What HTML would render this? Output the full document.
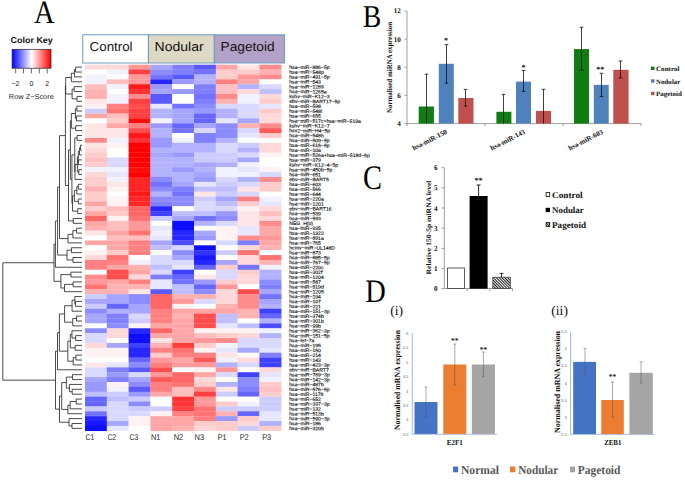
<!DOCTYPE html>
<html><head><meta charset="utf-8"><title>Figure</title>
<style>
html,body{margin:0;padding:0;background:#fff;width:685px;height:480px;overflow:hidden;}
svg{display:block;font-family:"Liberation Sans", sans-serif;text-rendering:geometricPrecision;}
</style></head><body>
<svg width="685" height="480" viewBox="0 0 685 480">
<rect width="685" height="480" fill="#fff"/>
<path d="M65.70,77.51V93.99M65.70,77.51H71.33M65.70,93.99H72.12M71.33,73.24V81.78M71.33,73.24H74.45M71.33,81.78H82.00M74.45,69.58V76.90M74.45,69.58H75.59M74.45,76.90H82.00M75.59,67.14V72.02M75.59,67.14H82.00M75.59,72.02H82.00M72.12,89.11V98.87M72.12,89.11H74.15M72.12,98.87H77.01M74.15,86.67V91.55M74.15,86.67H82.00M74.15,91.55H82.00M77.01,96.43V101.31M77.01,96.43H82.00M77.01,101.31H82.00M68.50,150.03V220.90M68.50,150.03H70.39M68.50,220.90H73.19M70.39,120.84V179.22M70.39,120.84H71.37M70.39,179.22H71.93M71.37,113.51V128.16M71.37,113.51H75.37M71.37,128.16H75.66M75.37,108.63V118.39M75.37,108.63H76.85M75.37,118.39H76.42M76.85,106.19V111.07M76.85,106.19H82.00M76.85,111.07H82.00M76.42,115.95V120.84M76.42,115.95H82.00M76.42,120.84H82.00M75.66,125.72V130.60M75.66,125.72H82.00M75.66,130.60H82.00M71.93,154.93V203.51M71.93,154.93H74.75M71.93,203.51H72.54M74.75,137.92V171.94M74.75,137.92H77.07M74.75,171.94H75.00M77.07,135.48V140.36M77.07,135.48H82.00M77.07,140.36H82.00M75.00,164.46V179.41M75.00,164.46H77.39M75.00,179.41H82.00M77.39,156.84V172.09M77.39,156.84H78.31M77.39,172.09H78.82M78.31,151.34V162.33M78.31,151.34H79.54M78.31,162.33H78.44M79.54,147.68V155.00M79.54,147.68H80.41M79.54,155.00H82.00M80.41,145.24V150.12M80.41,145.24H82.00M80.41,150.12H82.00M78.44,159.89V164.77M78.44,159.89H82.00M78.44,164.77H82.00M78.82,169.65V174.53M78.82,169.65H82.00M78.82,174.53H82.00M72.54,195.89V211.14M72.54,195.89H74.38M72.54,211.14H77.70M74.38,190.39V201.38M74.38,190.39H76.80M74.38,201.38H78.37M76.80,186.73V194.06M76.80,186.73H78.34M76.80,194.06H82.00M78.34,184.29V189.17M78.34,184.29H82.00M78.34,189.17H82.00M78.37,198.94V203.82M78.37,198.94H82.00M78.37,203.82H82.00M77.70,208.70V213.58M77.70,208.70H82.00M77.70,213.58H82.00M73.19,218.46V223.34M73.19,218.46H82.00M73.19,223.34H82.00M65.4,85.75V185.47M65.4,85.75H65.70M65.4,185.47H68.50M68.00,234.33V242.87M68.00,234.33H72.88M68.00,242.87H82.00M72.88,230.67V237.99M72.88,230.67H76.58M72.88,237.99H82.00M76.58,228.22V233.11M76.58,228.22H82.00M76.58,233.11H82.00M59.5,135.61V238.60M59.5,135.61H65.40M59.5,238.60H68.00M67.00,250.19V259.95M67.00,250.19H71.41M67.00,259.95H72.98M71.41,247.75V252.63M71.41,247.75H82.00M71.41,252.63H82.00M72.98,257.51V262.39M72.98,257.51H82.00M72.98,262.39H82.00M57.6,187.10V255.07M57.6,187.10H59.50M57.6,255.07H67.00M55.4,221.09V267.28M55.4,221.09H57.60M55.4,267.28H82.00M60.90,274.60V288.02M60.90,274.60H70.96M60.90,288.02H64.52M70.96,272.16V277.04M70.96,272.16H82.00M70.96,277.04H82.00M64.52,284.36V291.68M64.52,284.36H73.10M64.52,291.68H82.00M73.10,281.92V286.80M73.10,281.92H82.00M73.10,286.80H82.00M54.0,244.18V281.31M54.0,244.18H55.40M54.0,281.31H60.90M64.60,305.72V322.19M64.60,305.72H72.06M64.60,322.19H72.72M72.06,300.22V311.21M72.06,300.22H74.87M72.06,311.21H82.00M74.87,296.56V303.89M74.87,296.56H82.00M74.87,303.89H75.41M75.41,301.44V306.33M75.41,301.44H82.00M75.41,306.33H82.00M72.72,318.53V325.85M72.72,318.53H76.49M72.72,325.85H82.00M76.49,316.09V320.97M76.49,316.09H82.00M76.49,320.97H82.00M67.80,341.11V361.24M67.80,341.11H70.32M67.80,361.24H73.20M70.32,334.39V347.82M70.32,334.39H71.95M70.32,347.82H75.15M71.95,330.73V338.05M71.95,330.73H82.00M71.95,338.05H75.64M75.64,335.61V340.50M75.64,335.61H82.00M75.64,340.50H82.00M75.15,345.38V350.26M75.15,345.38H82.00M75.15,350.26H82.00M73.20,357.58V364.90M73.20,357.58H75.90M73.20,364.90H82.00M75.90,355.14V360.02M75.90,355.14H82.00M75.90,360.02H82.00M59.4,313.95V351.17M59.4,313.95H64.60M59.4,351.17H67.80M57.5,332.56V369.78M57.5,332.56H59.40M57.5,369.78H82.00M61.70,382.60V409.44M61.70,382.60H66.33M61.70,409.44H67.88M66.33,377.11V388.09M66.33,377.11H72.43M66.33,388.09H69.38M72.43,374.66V379.55M72.43,374.66H82.00M72.43,379.55H82.00M69.38,384.43V391.75M69.38,384.43H82.00M69.38,391.75H72.20M72.20,389.31V394.19M72.20,389.31H82.00M72.20,394.19H82.00M67.88,405.17V413.72M67.88,405.17H70.17M67.88,413.72H82.00M70.17,401.51V408.83M70.17,401.51H76.15M70.17,408.83H82.00M76.15,399.07V403.95M76.15,399.07H82.00M76.15,403.95H82.00M69.00,418.60V425.92M69.00,418.60H82.00M69.00,425.92H71.99M71.99,423.48V428.36M71.99,423.48H82.00M71.99,428.36H82.00M59.5,396.02V422.26M59.5,396.02H61.70M59.5,422.26H69.00M55.5,351.17V409.14M55.5,351.17H57.50M55.5,409.14H59.50M2.8,262.75V380.16M2.8,262.75H54.00M2.8,380.16H55.50" fill="none" stroke="#2a2a2a" stroke-width="0.85"/>
<g shape-rendering="auto"><rect x="85.00" y="64.70" width="22.05" height="5.13" fill="rgb(255,217,217)"/><rect x="106.80" y="64.70" width="22.05" height="5.13" fill="rgb(255,217,217)"/><rect x="128.60" y="64.70" width="22.05" height="5.13" fill="rgb(255,153,153)"/><rect x="150.40" y="64.70" width="22.05" height="5.13" fill="rgb(166,166,255)"/><rect x="172.20" y="64.70" width="22.05" height="5.13" fill="rgb(128,128,255)"/><rect x="194.00" y="64.70" width="22.05" height="5.13" fill="rgb(89,89,255)"/><rect x="215.80" y="64.70" width="22.05" height="5.13" fill="rgb(255,166,166)"/><rect x="237.60" y="64.70" width="22.05" height="5.13" fill="rgb(255,230,230)"/><rect x="259.40" y="64.70" width="22.05" height="5.13" fill="rgb(255,140,140)"/><rect x="85.00" y="69.58" width="22.05" height="5.13" fill="rgb(255,255,255)"/><rect x="106.80" y="69.58" width="22.05" height="5.13" fill="rgb(242,242,255)"/><rect x="128.60" y="69.58" width="22.05" height="5.13" fill="rgb(255,64,64)"/><rect x="150.40" y="69.58" width="22.05" height="5.13" fill="rgb(140,140,255)"/><rect x="172.20" y="69.58" width="22.05" height="5.13" fill="rgb(128,128,255)"/><rect x="194.00" y="69.58" width="22.05" height="5.13" fill="rgb(115,115,255)"/><rect x="215.80" y="69.58" width="22.05" height="5.13" fill="rgb(255,204,204)"/><rect x="237.60" y="69.58" width="22.05" height="5.13" fill="rgb(255,204,204)"/><rect x="259.40" y="69.58" width="22.05" height="5.13" fill="rgb(255,178,178)"/><rect x="85.00" y="74.46" width="22.05" height="5.13" fill="rgb(242,242,255)"/><rect x="106.80" y="74.46" width="22.05" height="5.13" fill="rgb(255,255,255)"/><rect x="128.60" y="74.46" width="22.05" height="5.13" fill="rgb(255,153,153)"/><rect x="150.40" y="74.46" width="22.05" height="5.13" fill="rgb(115,115,255)"/><rect x="172.20" y="74.46" width="22.05" height="5.13" fill="rgb(89,89,255)"/><rect x="194.00" y="74.46" width="22.05" height="5.13" fill="rgb(178,178,255)"/><rect x="215.80" y="74.46" width="22.05" height="5.13" fill="rgb(255,204,204)"/><rect x="237.60" y="74.46" width="22.05" height="5.13" fill="rgb(255,153,153)"/><rect x="259.40" y="74.46" width="22.05" height="5.13" fill="rgb(255,140,140)"/><rect x="85.00" y="79.34" width="22.05" height="5.13" fill="rgb(242,242,255)"/><rect x="106.80" y="79.34" width="22.05" height="5.13" fill="rgb(255,191,191)"/><rect x="128.60" y="79.34" width="22.05" height="5.13" fill="rgb(255,153,153)"/><rect x="150.40" y="79.34" width="22.05" height="5.13" fill="rgb(38,38,255)"/><rect x="172.20" y="79.34" width="22.05" height="5.13" fill="rgb(153,153,255)"/><rect x="194.00" y="79.34" width="22.05" height="5.13" fill="rgb(178,178,255)"/><rect x="215.80" y="79.34" width="22.05" height="5.13" fill="rgb(255,128,128)"/><rect x="237.60" y="79.34" width="22.05" height="5.13" fill="rgb(255,166,166)"/><rect x="259.40" y="79.34" width="22.05" height="5.13" fill="rgb(255,255,255)"/><rect x="85.00" y="84.23" width="22.05" height="5.13" fill="rgb(255,191,191)"/><rect x="106.80" y="84.23" width="22.05" height="5.13" fill="rgb(242,242,255)"/><rect x="128.60" y="84.23" width="22.05" height="5.13" fill="rgb(255,25,25)"/><rect x="150.40" y="84.23" width="22.05" height="5.13" fill="rgb(153,153,255)"/><rect x="172.20" y="84.23" width="22.05" height="5.13" fill="rgb(255,255,255)"/><rect x="194.00" y="84.23" width="22.05" height="5.13" fill="rgb(128,128,255)"/><rect x="215.80" y="84.23" width="22.05" height="5.13" fill="rgb(255,191,191)"/><rect x="237.60" y="84.23" width="22.05" height="5.13" fill="rgb(178,178,255)"/><rect x="259.40" y="84.23" width="22.05" height="5.13" fill="rgb(217,217,255)"/><rect x="85.00" y="89.11" width="22.05" height="5.13" fill="rgb(255,178,178)"/><rect x="106.80" y="89.11" width="22.05" height="5.13" fill="rgb(255,255,255)"/><rect x="128.60" y="89.11" width="22.05" height="5.13" fill="rgb(255,51,51)"/><rect x="150.40" y="89.11" width="22.05" height="5.13" fill="rgb(166,166,255)"/><rect x="172.20" y="89.11" width="22.05" height="5.13" fill="rgb(153,153,255)"/><rect x="194.00" y="89.11" width="22.05" height="5.13" fill="rgb(128,128,255)"/><rect x="215.80" y="89.11" width="22.05" height="5.13" fill="rgb(255,191,191)"/><rect x="237.60" y="89.11" width="22.05" height="5.13" fill="rgb(255,217,217)"/><rect x="259.40" y="89.11" width="22.05" height="5.13" fill="rgb(191,191,255)"/><rect x="85.00" y="93.99" width="22.05" height="5.13" fill="rgb(255,178,178)"/><rect x="106.80" y="93.99" width="22.05" height="5.13" fill="rgb(242,242,255)"/><rect x="128.60" y="93.99" width="22.05" height="5.13" fill="rgb(255,140,140)"/><rect x="150.40" y="93.99" width="22.05" height="5.13" fill="rgb(89,89,255)"/><rect x="172.20" y="93.99" width="22.05" height="5.13" fill="rgb(255,255,255)"/><rect x="194.00" y="93.99" width="22.05" height="5.13" fill="rgb(115,115,255)"/><rect x="215.80" y="93.99" width="22.05" height="5.13" fill="rgb(255,140,140)"/><rect x="237.60" y="93.99" width="22.05" height="5.13" fill="rgb(242,242,255)"/><rect x="259.40" y="93.99" width="22.05" height="5.13" fill="rgb(255,217,217)"/><rect x="85.00" y="98.87" width="22.05" height="5.13" fill="rgb(255,230,230)"/><rect x="106.80" y="98.87" width="22.05" height="5.13" fill="rgb(242,242,255)"/><rect x="128.60" y="98.87" width="22.05" height="5.13" fill="rgb(255,64,64)"/><rect x="150.40" y="98.87" width="22.05" height="5.13" fill="rgb(89,89,255)"/><rect x="172.20" y="98.87" width="22.05" height="5.13" fill="rgb(255,255,255)"/><rect x="194.00" y="98.87" width="22.05" height="5.13" fill="rgb(128,128,255)"/><rect x="215.80" y="98.87" width="22.05" height="5.13" fill="rgb(255,178,178)"/><rect x="237.60" y="98.87" width="22.05" height="5.13" fill="rgb(242,242,255)"/><rect x="259.40" y="98.87" width="22.05" height="5.13" fill="rgb(255,204,204)"/><rect x="85.00" y="103.75" width="22.05" height="5.13" fill="rgb(255,242,242)"/><rect x="106.80" y="103.75" width="22.05" height="5.13" fill="rgb(255,128,128)"/><rect x="128.60" y="103.75" width="22.05" height="5.13" fill="rgb(255,77,77)"/><rect x="150.40" y="103.75" width="22.05" height="5.13" fill="rgb(230,230,255)"/><rect x="172.20" y="103.75" width="22.05" height="5.13" fill="rgb(115,115,255)"/><rect x="194.00" y="103.75" width="22.05" height="5.13" fill="rgb(140,140,255)"/><rect x="215.80" y="103.75" width="22.05" height="5.13" fill="rgb(217,217,255)"/><rect x="237.60" y="103.75" width="22.05" height="5.13" fill="rgb(217,217,255)"/><rect x="259.40" y="103.75" width="22.05" height="5.13" fill="rgb(230,230,255)"/><rect x="85.00" y="108.63" width="22.05" height="5.13" fill="rgb(204,204,255)"/><rect x="106.80" y="108.63" width="22.05" height="5.13" fill="rgb(255,115,115)"/><rect x="128.60" y="108.63" width="22.05" height="5.13" fill="rgb(255,64,64)"/><rect x="150.40" y="108.63" width="22.05" height="5.13" fill="rgb(178,178,255)"/><rect x="172.20" y="108.63" width="22.05" height="5.13" fill="rgb(166,166,255)"/><rect x="194.00" y="108.63" width="22.05" height="5.13" fill="rgb(153,153,255)"/><rect x="215.80" y="108.63" width="22.05" height="5.13" fill="rgb(178,178,255)"/><rect x="237.60" y="108.63" width="22.05" height="5.13" fill="rgb(217,217,255)"/><rect x="259.40" y="108.63" width="22.05" height="5.13" fill="rgb(255,204,204)"/><rect x="85.00" y="113.51" width="22.05" height="5.13" fill="rgb(255,166,166)"/><rect x="106.80" y="113.51" width="22.05" height="5.13" fill="rgb(255,191,191)"/><rect x="128.60" y="113.51" width="22.05" height="5.13" fill="rgb(255,64,64)"/><rect x="150.40" y="113.51" width="22.05" height="5.13" fill="rgb(178,178,255)"/><rect x="172.20" y="113.51" width="22.05" height="5.13" fill="rgb(166,166,255)"/><rect x="194.00" y="113.51" width="22.05" height="5.13" fill="rgb(102,102,255)"/><rect x="215.80" y="113.51" width="22.05" height="5.13" fill="rgb(178,178,255)"/><rect x="237.60" y="113.51" width="22.05" height="5.13" fill="rgb(217,217,255)"/><rect x="259.40" y="113.51" width="22.05" height="5.13" fill="rgb(255,217,217)"/><rect x="85.00" y="118.39" width="22.05" height="5.13" fill="rgb(255,255,255)"/><rect x="106.80" y="118.39" width="22.05" height="5.13" fill="rgb(255,204,204)"/><rect x="128.60" y="118.39" width="22.05" height="5.13" fill="rgb(255,13,13)"/><rect x="150.40" y="118.39" width="22.05" height="5.13" fill="rgb(242,242,255)"/><rect x="172.20" y="118.39" width="22.05" height="5.13" fill="rgb(166,166,255)"/><rect x="194.00" y="118.39" width="22.05" height="5.13" fill="rgb(102,102,255)"/><rect x="215.80" y="118.39" width="22.05" height="5.13" fill="rgb(230,230,255)"/><rect x="237.60" y="118.39" width="22.05" height="5.13" fill="rgb(166,166,255)"/><rect x="259.40" y="118.39" width="22.05" height="5.13" fill="rgb(255,217,217)"/><rect x="85.00" y="123.28" width="22.05" height="5.13" fill="rgb(255,230,230)"/><rect x="106.80" y="123.28" width="22.05" height="5.13" fill="rgb(255,166,166)"/><rect x="128.60" y="123.28" width="22.05" height="5.13" fill="rgb(255,128,128)"/><rect x="150.40" y="123.28" width="22.05" height="5.13" fill="rgb(153,153,255)"/><rect x="172.20" y="123.28" width="22.05" height="5.13" fill="rgb(102,102,255)"/><rect x="194.00" y="123.28" width="22.05" height="5.13" fill="rgb(166,166,255)"/><rect x="215.80" y="123.28" width="22.05" height="5.13" fill="rgb(140,140,255)"/><rect x="237.60" y="123.28" width="22.05" height="5.13" fill="rgb(255,178,178)"/><rect x="259.40" y="123.28" width="22.05" height="5.13" fill="rgb(255,140,140)"/><rect x="85.00" y="128.16" width="22.05" height="5.13" fill="rgb(255,230,230)"/><rect x="106.80" y="128.16" width="22.05" height="5.13" fill="rgb(255,230,230)"/><rect x="128.60" y="128.16" width="22.05" height="5.13" fill="rgb(255,77,77)"/><rect x="150.40" y="128.16" width="22.05" height="5.13" fill="rgb(178,178,255)"/><rect x="172.20" y="128.16" width="22.05" height="5.13" fill="rgb(115,115,255)"/><rect x="194.00" y="128.16" width="22.05" height="5.13" fill="rgb(217,217,255)"/><rect x="215.80" y="128.16" width="22.05" height="5.13" fill="rgb(140,140,255)"/><rect x="237.60" y="128.16" width="22.05" height="5.13" fill="rgb(217,217,255)"/><rect x="259.40" y="128.16" width="22.05" height="5.13" fill="rgb(255,89,89)"/><rect x="85.00" y="133.04" width="22.05" height="5.13" fill="rgb(255,230,230)"/><rect x="106.80" y="133.04" width="22.05" height="5.13" fill="rgb(255,230,230)"/><rect x="128.60" y="133.04" width="22.05" height="5.13" fill="rgb(255,25,25)"/><rect x="150.40" y="133.04" width="22.05" height="5.13" fill="rgb(178,178,255)"/><rect x="172.20" y="133.04" width="22.05" height="5.13" fill="rgb(255,255,255)"/><rect x="194.00" y="133.04" width="22.05" height="5.13" fill="rgb(128,128,255)"/><rect x="215.80" y="133.04" width="22.05" height="5.13" fill="rgb(140,140,255)"/><rect x="237.60" y="133.04" width="22.05" height="5.13" fill="rgb(230,230,255)"/><rect x="259.40" y="133.04" width="22.05" height="5.13" fill="rgb(255,204,204)"/><rect x="85.00" y="137.92" width="22.05" height="5.13" fill="rgb(255,140,140)"/><rect x="106.80" y="137.92" width="22.05" height="5.13" fill="rgb(242,242,255)"/><rect x="128.60" y="137.92" width="22.05" height="5.13" fill="rgb(255,51,51)"/><rect x="150.40" y="137.92" width="22.05" height="5.13" fill="rgb(153,153,255)"/><rect x="172.20" y="137.92" width="22.05" height="5.13" fill="rgb(242,242,255)"/><rect x="194.00" y="137.92" width="22.05" height="5.13" fill="rgb(128,128,255)"/><rect x="215.80" y="137.92" width="22.05" height="5.13" fill="rgb(178,178,255)"/><rect x="237.60" y="137.92" width="22.05" height="5.13" fill="rgb(255,255,255)"/><rect x="259.40" y="137.92" width="22.05" height="5.13" fill="rgb(255,255,255)"/><rect x="85.00" y="142.80" width="22.05" height="5.13" fill="rgb(255,230,230)"/><rect x="106.80" y="142.80" width="22.05" height="5.13" fill="rgb(255,242,242)"/><rect x="128.60" y="142.80" width="22.05" height="5.13" fill="rgb(255,0,0)"/><rect x="150.40" y="142.80" width="22.05" height="5.13" fill="rgb(153,153,255)"/><rect x="172.20" y="142.80" width="22.05" height="5.13" fill="rgb(178,178,255)"/><rect x="194.00" y="142.80" width="22.05" height="5.13" fill="rgb(178,178,255)"/><rect x="215.80" y="142.80" width="22.05" height="5.13" fill="rgb(217,217,255)"/><rect x="237.60" y="142.80" width="22.05" height="5.13" fill="rgb(204,204,255)"/><rect x="259.40" y="142.80" width="22.05" height="5.13" fill="rgb(255,217,217)"/><rect x="85.00" y="147.68" width="22.05" height="5.13" fill="rgb(255,217,217)"/><rect x="106.80" y="147.68" width="22.05" height="5.13" fill="rgb(255,255,255)"/><rect x="128.60" y="147.68" width="22.05" height="5.13" fill="rgb(255,0,0)"/><rect x="150.40" y="147.68" width="22.05" height="5.13" fill="rgb(178,178,255)"/><rect x="172.20" y="147.68" width="22.05" height="5.13" fill="rgb(178,178,255)"/><rect x="194.00" y="147.68" width="22.05" height="5.13" fill="rgb(178,178,255)"/><rect x="215.80" y="147.68" width="22.05" height="5.13" fill="rgb(217,217,255)"/><rect x="237.60" y="147.68" width="22.05" height="5.13" fill="rgb(178,178,255)"/><rect x="259.40" y="147.68" width="22.05" height="5.13" fill="rgb(255,217,217)"/><rect x="85.00" y="152.56" width="22.05" height="5.13" fill="rgb(255,204,204)"/><rect x="106.80" y="152.56" width="22.05" height="5.13" fill="rgb(255,255,255)"/><rect x="128.60" y="152.56" width="22.05" height="5.13" fill="rgb(255,0,0)"/><rect x="150.40" y="152.56" width="22.05" height="5.13" fill="rgb(166,166,255)"/><rect x="172.20" y="152.56" width="22.05" height="5.13" fill="rgb(153,153,255)"/><rect x="194.00" y="152.56" width="22.05" height="5.13" fill="rgb(204,204,255)"/><rect x="215.80" y="152.56" width="22.05" height="5.13" fill="rgb(204,204,255)"/><rect x="237.60" y="152.56" width="22.05" height="5.13" fill="rgb(217,217,255)"/><rect x="259.40" y="152.56" width="22.05" height="5.13" fill="rgb(255,242,242)"/><rect x="85.00" y="157.45" width="22.05" height="5.13" fill="rgb(255,191,191)"/><rect x="106.80" y="157.45" width="22.05" height="5.13" fill="rgb(217,217,255)"/><rect x="128.60" y="157.45" width="22.05" height="5.13" fill="rgb(255,0,0)"/><rect x="150.40" y="157.45" width="22.05" height="5.13" fill="rgb(178,178,255)"/><rect x="172.20" y="157.45" width="22.05" height="5.13" fill="rgb(178,178,255)"/><rect x="194.00" y="157.45" width="22.05" height="5.13" fill="rgb(204,204,255)"/><rect x="215.80" y="157.45" width="22.05" height="5.13" fill="rgb(204,204,255)"/><rect x="237.60" y="157.45" width="22.05" height="5.13" fill="rgb(166,166,255)"/><rect x="259.40" y="157.45" width="22.05" height="5.13" fill="rgb(255,255,255)"/><rect x="85.00" y="162.33" width="22.05" height="5.13" fill="rgb(255,204,204)"/><rect x="106.80" y="162.33" width="22.05" height="5.13" fill="rgb(217,217,255)"/><rect x="128.60" y="162.33" width="22.05" height="5.13" fill="rgb(255,0,0)"/><rect x="150.40" y="162.33" width="22.05" height="5.13" fill="rgb(178,178,255)"/><rect x="172.20" y="162.33" width="22.05" height="5.13" fill="rgb(178,178,255)"/><rect x="194.00" y="162.33" width="22.05" height="5.13" fill="rgb(166,166,255)"/><rect x="215.80" y="162.33" width="22.05" height="5.13" fill="rgb(178,178,255)"/><rect x="237.60" y="162.33" width="22.05" height="5.13" fill="rgb(242,242,255)"/><rect x="259.40" y="162.33" width="22.05" height="5.13" fill="rgb(255,255,255)"/><rect x="85.00" y="167.21" width="22.05" height="5.13" fill="rgb(242,242,255)"/><rect x="106.80" y="167.21" width="22.05" height="5.13" fill="rgb(242,242,255)"/><rect x="128.60" y="167.21" width="22.05" height="5.13" fill="rgb(255,13,13)"/><rect x="150.40" y="167.21" width="22.05" height="5.13" fill="rgb(178,178,255)"/><rect x="172.20" y="167.21" width="22.05" height="5.13" fill="rgb(153,153,255)"/><rect x="194.00" y="167.21" width="22.05" height="5.13" fill="rgb(178,178,255)"/><rect x="215.80" y="167.21" width="22.05" height="5.13" fill="rgb(242,242,255)"/><rect x="237.60" y="167.21" width="22.05" height="5.13" fill="rgb(230,230,255)"/><rect x="259.40" y="167.21" width="22.05" height="5.13" fill="rgb(255,242,242)"/><rect x="85.00" y="172.09" width="22.05" height="5.13" fill="rgb(255,217,217)"/><rect x="106.80" y="172.09" width="22.05" height="5.13" fill="rgb(230,230,255)"/><rect x="128.60" y="172.09" width="22.05" height="5.13" fill="rgb(255,0,0)"/><rect x="150.40" y="172.09" width="22.05" height="5.13" fill="rgb(178,178,255)"/><rect x="172.20" y="172.09" width="22.05" height="5.13" fill="rgb(178,178,255)"/><rect x="194.00" y="172.09" width="22.05" height="5.13" fill="rgb(166,166,255)"/><rect x="215.80" y="172.09" width="22.05" height="5.13" fill="rgb(242,242,255)"/><rect x="237.60" y="172.09" width="22.05" height="5.13" fill="rgb(242,242,255)"/><rect x="259.40" y="172.09" width="22.05" height="5.13" fill="rgb(217,217,255)"/><rect x="85.00" y="176.97" width="22.05" height="5.13" fill="rgb(255,204,204)"/><rect x="106.80" y="176.97" width="22.05" height="5.13" fill="rgb(242,242,255)"/><rect x="128.60" y="176.97" width="22.05" height="5.13" fill="rgb(255,38,38)"/><rect x="150.40" y="176.97" width="22.05" height="5.13" fill="rgb(140,140,255)"/><rect x="172.20" y="176.97" width="22.05" height="5.13" fill="rgb(178,178,255)"/><rect x="194.00" y="176.97" width="22.05" height="5.13" fill="rgb(153,153,255)"/><rect x="215.80" y="176.97" width="22.05" height="5.13" fill="rgb(217,217,255)"/><rect x="237.60" y="176.97" width="22.05" height="5.13" fill="rgb(178,178,255)"/><rect x="259.40" y="176.97" width="22.05" height="5.13" fill="rgb(255,140,140)"/><rect x="85.00" y="181.85" width="22.05" height="5.13" fill="rgb(255,204,204)"/><rect x="106.80" y="181.85" width="22.05" height="5.13" fill="rgb(255,230,230)"/><rect x="128.60" y="181.85" width="22.05" height="5.13" fill="rgb(255,38,38)"/><rect x="150.40" y="181.85" width="22.05" height="5.13" fill="rgb(115,115,255)"/><rect x="172.20" y="181.85" width="22.05" height="5.13" fill="rgb(166,166,255)"/><rect x="194.00" y="181.85" width="22.05" height="5.13" fill="rgb(230,230,255)"/><rect x="215.80" y="181.85" width="22.05" height="5.13" fill="rgb(204,204,255)"/><rect x="237.60" y="181.85" width="22.05" height="5.13" fill="rgb(217,217,255)"/><rect x="259.40" y="181.85" width="22.05" height="5.13" fill="rgb(255,204,204)"/><rect x="85.00" y="186.73" width="22.05" height="5.13" fill="rgb(255,178,178)"/><rect x="106.80" y="186.73" width="22.05" height="5.13" fill="rgb(255,242,242)"/><rect x="128.60" y="186.73" width="22.05" height="5.13" fill="rgb(255,38,38)"/><rect x="150.40" y="186.73" width="22.05" height="5.13" fill="rgb(140,140,255)"/><rect x="172.20" y="186.73" width="22.05" height="5.13" fill="rgb(128,128,255)"/><rect x="194.00" y="186.73" width="22.05" height="5.13" fill="rgb(191,191,255)"/><rect x="215.80" y="186.73" width="22.05" height="5.13" fill="rgb(191,191,255)"/><rect x="237.60" y="186.73" width="22.05" height="5.13" fill="rgb(255,230,230)"/><rect x="259.40" y="186.73" width="22.05" height="5.13" fill="rgb(255,204,204)"/><rect x="85.00" y="191.61" width="22.05" height="5.13" fill="rgb(255,204,204)"/><rect x="106.80" y="191.61" width="22.05" height="5.13" fill="rgb(255,255,255)"/><rect x="128.60" y="191.61" width="22.05" height="5.13" fill="rgb(255,25,25)"/><rect x="150.40" y="191.61" width="22.05" height="5.13" fill="rgb(178,178,255)"/><rect x="172.20" y="191.61" width="22.05" height="5.13" fill="rgb(115,115,255)"/><rect x="194.00" y="191.61" width="22.05" height="5.13" fill="rgb(255,230,230)"/><rect x="215.80" y="191.61" width="22.05" height="5.13" fill="rgb(204,204,255)"/><rect x="237.60" y="191.61" width="22.05" height="5.13" fill="rgb(217,217,255)"/><rect x="259.40" y="191.61" width="22.05" height="5.13" fill="rgb(255,255,255)"/><rect x="85.00" y="196.50" width="22.05" height="5.13" fill="rgb(255,204,204)"/><rect x="106.80" y="196.50" width="22.05" height="5.13" fill="rgb(255,242,242)"/><rect x="128.60" y="196.50" width="22.05" height="5.13" fill="rgb(255,38,38)"/><rect x="150.40" y="196.50" width="22.05" height="5.13" fill="rgb(140,140,255)"/><rect x="172.20" y="196.50" width="22.05" height="5.13" fill="rgb(140,140,255)"/><rect x="194.00" y="196.50" width="22.05" height="5.13" fill="rgb(204,204,255)"/><rect x="215.80" y="196.50" width="22.05" height="5.13" fill="rgb(166,166,255)"/><rect x="237.60" y="196.50" width="22.05" height="5.13" fill="rgb(255,128,128)"/><rect x="259.40" y="196.50" width="22.05" height="5.13" fill="rgb(242,242,255)"/><rect x="85.00" y="201.38" width="22.05" height="5.13" fill="rgb(255,166,166)"/><rect x="106.80" y="201.38" width="22.05" height="5.13" fill="rgb(255,242,242)"/><rect x="128.60" y="201.38" width="22.05" height="5.13" fill="rgb(255,38,38)"/><rect x="150.40" y="201.38" width="22.05" height="5.13" fill="rgb(128,128,255)"/><rect x="172.20" y="201.38" width="22.05" height="5.13" fill="rgb(140,140,255)"/><rect x="194.00" y="201.38" width="22.05" height="5.13" fill="rgb(217,217,255)"/><rect x="215.80" y="201.38" width="22.05" height="5.13" fill="rgb(191,191,255)"/><rect x="237.60" y="201.38" width="22.05" height="5.13" fill="rgb(255,204,204)"/><rect x="259.40" y="201.38" width="22.05" height="5.13" fill="rgb(230,230,255)"/><rect x="85.00" y="206.26" width="22.05" height="5.13" fill="rgb(255,204,204)"/><rect x="106.80" y="206.26" width="22.05" height="5.13" fill="rgb(255,191,191)"/><rect x="128.60" y="206.26" width="22.05" height="5.13" fill="rgb(255,102,102)"/><rect x="150.40" y="206.26" width="22.05" height="5.13" fill="rgb(38,38,255)"/><rect x="172.20" y="206.26" width="22.05" height="5.13" fill="rgb(255,255,255)"/><rect x="194.00" y="206.26" width="22.05" height="5.13" fill="rgb(217,217,255)"/><rect x="215.80" y="206.26" width="22.05" height="5.13" fill="rgb(217,217,255)"/><rect x="237.60" y="206.26" width="22.05" height="5.13" fill="rgb(255,242,242)"/><rect x="259.40" y="206.26" width="22.05" height="5.13" fill="rgb(255,217,217)"/><rect x="85.00" y="211.14" width="22.05" height="5.13" fill="rgb(255,166,166)"/><rect x="106.80" y="211.14" width="22.05" height="5.13" fill="rgb(255,204,204)"/><rect x="128.60" y="211.14" width="22.05" height="5.13" fill="rgb(255,102,102)"/><rect x="150.40" y="211.14" width="22.05" height="5.13" fill="rgb(64,64,255)"/><rect x="172.20" y="211.14" width="22.05" height="5.13" fill="rgb(191,191,255)"/><rect x="194.00" y="211.14" width="22.05" height="5.13" fill="rgb(191,191,255)"/><rect x="215.80" y="211.14" width="22.05" height="5.13" fill="rgb(153,153,255)"/><rect x="237.60" y="211.14" width="22.05" height="5.13" fill="rgb(255,230,230)"/><rect x="259.40" y="211.14" width="22.05" height="5.13" fill="rgb(255,191,191)"/><rect x="85.00" y="216.02" width="22.05" height="5.13" fill="rgb(255,102,102)"/><rect x="106.80" y="216.02" width="22.05" height="5.13" fill="rgb(255,242,242)"/><rect x="128.60" y="216.02" width="22.05" height="5.13" fill="rgb(255,115,115)"/><rect x="150.40" y="216.02" width="22.05" height="5.13" fill="rgb(204,204,255)"/><rect x="172.20" y="216.02" width="22.05" height="5.13" fill="rgb(166,166,255)"/><rect x="194.00" y="216.02" width="22.05" height="5.13" fill="rgb(115,115,255)"/><rect x="215.80" y="216.02" width="22.05" height="5.13" fill="rgb(140,140,255)"/><rect x="237.60" y="216.02" width="22.05" height="5.13" fill="rgb(255,230,230)"/><rect x="259.40" y="216.02" width="22.05" height="5.13" fill="rgb(255,217,217)"/><rect x="85.00" y="220.90" width="22.05" height="5.13" fill="rgb(255,166,166)"/><rect x="106.80" y="220.90" width="22.05" height="5.13" fill="rgb(255,191,191)"/><rect x="128.60" y="220.90" width="22.05" height="5.13" fill="rgb(255,153,153)"/><rect x="150.40" y="220.90" width="22.05" height="5.13" fill="rgb(255,255,255)"/><rect x="172.20" y="220.90" width="22.05" height="5.13" fill="rgb(13,13,255)"/><rect x="194.00" y="220.90" width="22.05" height="5.13" fill="rgb(178,178,255)"/><rect x="215.80" y="220.90" width="22.05" height="5.13" fill="rgb(217,217,255)"/><rect x="237.60" y="220.90" width="22.05" height="5.13" fill="rgb(255,230,230)"/><rect x="259.40" y="220.90" width="22.05" height="5.13" fill="rgb(255,140,140)"/><rect x="85.00" y="225.78" width="22.05" height="5.13" fill="rgb(255,178,178)"/><rect x="106.80" y="225.78" width="22.05" height="5.13" fill="rgb(255,191,191)"/><rect x="128.60" y="225.78" width="22.05" height="5.13" fill="rgb(255,153,153)"/><rect x="150.40" y="225.78" width="22.05" height="5.13" fill="rgb(230,230,255)"/><rect x="172.20" y="225.78" width="22.05" height="5.13" fill="rgb(13,13,255)"/><rect x="194.00" y="225.78" width="22.05" height="5.13" fill="rgb(255,255,255)"/><rect x="215.80" y="225.78" width="22.05" height="5.13" fill="rgb(255,242,242)"/><rect x="237.60" y="225.78" width="22.05" height="5.13" fill="rgb(230,230,255)"/><rect x="259.40" y="225.78" width="22.05" height="5.13" fill="rgb(255,166,166)"/><rect x="85.00" y="230.67" width="22.05" height="5.13" fill="rgb(255,230,230)"/><rect x="106.80" y="230.67" width="22.05" height="5.13" fill="rgb(255,166,166)"/><rect x="128.60" y="230.67" width="22.05" height="5.13" fill="rgb(255,115,115)"/><rect x="150.40" y="230.67" width="22.05" height="5.13" fill="rgb(242,242,255)"/><rect x="172.20" y="230.67" width="22.05" height="5.13" fill="rgb(38,38,255)"/><rect x="194.00" y="230.67" width="22.05" height="5.13" fill="rgb(166,166,255)"/><rect x="215.80" y="230.67" width="22.05" height="5.13" fill="rgb(255,242,242)"/><rect x="237.60" y="230.67" width="22.05" height="5.13" fill="rgb(230,230,255)"/><rect x="259.40" y="230.67" width="22.05" height="5.13" fill="rgb(255,166,166)"/><rect x="85.00" y="235.55" width="22.05" height="5.13" fill="rgb(255,255,255)"/><rect x="106.80" y="235.55" width="22.05" height="5.13" fill="rgb(255,191,191)"/><rect x="128.60" y="235.55" width="22.05" height="5.13" fill="rgb(255,191,191)"/><rect x="150.40" y="235.55" width="22.05" height="5.13" fill="rgb(230,230,255)"/><rect x="172.20" y="235.55" width="22.05" height="5.13" fill="rgb(38,38,255)"/><rect x="194.00" y="235.55" width="22.05" height="5.13" fill="rgb(153,153,255)"/><rect x="215.80" y="235.55" width="22.05" height="5.13" fill="rgb(255,242,242)"/><rect x="237.60" y="235.55" width="22.05" height="5.13" fill="rgb(255,140,140)"/><rect x="259.40" y="235.55" width="22.05" height="5.13" fill="rgb(255,153,153)"/><rect x="85.00" y="240.43" width="22.05" height="5.13" fill="rgb(255,166,166)"/><rect x="106.80" y="240.43" width="22.05" height="5.13" fill="rgb(255,166,166)"/><rect x="128.60" y="240.43" width="22.05" height="5.13" fill="rgb(255,128,128)"/><rect x="150.40" y="240.43" width="22.05" height="5.13" fill="rgb(166,166,255)"/><rect x="172.20" y="240.43" width="22.05" height="5.13" fill="rgb(77,77,255)"/><rect x="194.00" y="240.43" width="22.05" height="5.13" fill="rgb(255,255,255)"/><rect x="215.80" y="240.43" width="22.05" height="5.13" fill="rgb(217,217,255)"/><rect x="237.60" y="240.43" width="22.05" height="5.13" fill="rgb(128,128,255)"/><rect x="259.40" y="240.43" width="22.05" height="5.13" fill="rgb(255,166,166)"/><rect x="85.00" y="245.31" width="22.05" height="5.13" fill="rgb(255,255,255)"/><rect x="106.80" y="245.31" width="22.05" height="5.13" fill="rgb(255,166,166)"/><rect x="128.60" y="245.31" width="22.05" height="5.13" fill="rgb(255,128,128)"/><rect x="150.40" y="245.31" width="22.05" height="5.13" fill="rgb(191,191,255)"/><rect x="172.20" y="245.31" width="22.05" height="5.13" fill="rgb(217,217,255)"/><rect x="194.00" y="245.31" width="22.05" height="5.13" fill="rgb(13,13,255)"/><rect x="215.80" y="245.31" width="22.05" height="5.13" fill="rgb(255,255,255)"/><rect x="237.60" y="245.31" width="22.05" height="5.13" fill="rgb(255,217,217)"/><rect x="259.40" y="245.31" width="22.05" height="5.13" fill="rgb(255,178,178)"/><rect x="85.00" y="250.19" width="22.05" height="5.13" fill="rgb(255,242,242)"/><rect x="106.80" y="250.19" width="22.05" height="5.13" fill="rgb(255,204,204)"/><rect x="128.60" y="250.19" width="22.05" height="5.13" fill="rgb(255,128,128)"/><rect x="150.40" y="250.19" width="22.05" height="5.13" fill="rgb(255,255,255)"/><rect x="172.20" y="250.19" width="22.05" height="5.13" fill="rgb(140,140,255)"/><rect x="194.00" y="250.19" width="22.05" height="5.13" fill="rgb(51,51,255)"/><rect x="215.80" y="250.19" width="22.05" height="5.13" fill="rgb(204,204,255)"/><rect x="237.60" y="250.19" width="22.05" height="5.13" fill="rgb(255,115,115)"/><rect x="259.40" y="250.19" width="22.05" height="5.13" fill="rgb(255,255,255)"/><rect x="85.00" y="255.07" width="22.05" height="5.13" fill="rgb(255,217,217)"/><rect x="106.80" y="255.07" width="22.05" height="5.13" fill="rgb(255,115,115)"/><rect x="128.60" y="255.07" width="22.05" height="5.13" fill="rgb(255,255,255)"/><rect x="150.40" y="255.07" width="22.05" height="5.13" fill="rgb(217,217,255)"/><rect x="172.20" y="255.07" width="22.05" height="5.13" fill="rgb(166,166,255)"/><rect x="194.00" y="255.07" width="22.05" height="5.13" fill="rgb(25,25,255)"/><rect x="215.80" y="255.07" width="22.05" height="5.13" fill="rgb(255,255,255)"/><rect x="237.60" y="255.07" width="22.05" height="5.13" fill="rgb(255,217,217)"/><rect x="259.40" y="255.07" width="22.05" height="5.13" fill="rgb(255,115,115)"/><rect x="85.00" y="259.95" width="22.05" height="5.13" fill="rgb(255,128,128)"/><rect x="106.80" y="259.95" width="22.05" height="5.13" fill="rgb(255,128,128)"/><rect x="128.60" y="259.95" width="22.05" height="5.13" fill="rgb(242,242,255)"/><rect x="150.40" y="259.95" width="22.05" height="5.13" fill="rgb(217,217,255)"/><rect x="172.20" y="259.95" width="22.05" height="5.13" fill="rgb(217,217,255)"/><rect x="194.00" y="259.95" width="22.05" height="5.13" fill="rgb(38,38,255)"/><rect x="215.80" y="259.95" width="22.05" height="5.13" fill="rgb(166,166,255)"/><rect x="237.60" y="259.95" width="22.05" height="5.13" fill="rgb(255,217,217)"/><rect x="259.40" y="259.95" width="22.05" height="5.13" fill="rgb(255,178,178)"/><rect x="85.00" y="264.83" width="22.05" height="5.13" fill="rgb(255,128,128)"/><rect x="106.80" y="264.83" width="22.05" height="5.13" fill="rgb(255,166,166)"/><rect x="128.60" y="264.83" width="22.05" height="5.13" fill="rgb(255,178,178)"/><rect x="150.40" y="264.83" width="22.05" height="5.13" fill="rgb(191,191,255)"/><rect x="172.20" y="264.83" width="22.05" height="5.13" fill="rgb(230,230,255)"/><rect x="194.00" y="264.83" width="22.05" height="5.13" fill="rgb(102,102,255)"/><rect x="215.80" y="264.83" width="22.05" height="5.13" fill="rgb(255,204,204)"/><rect x="237.60" y="264.83" width="22.05" height="5.13" fill="rgb(115,115,255)"/><rect x="259.40" y="264.83" width="22.05" height="5.13" fill="rgb(242,242,255)"/><rect x="85.00" y="269.72" width="22.05" height="5.13" fill="rgb(255,255,255)"/><rect x="106.80" y="269.72" width="22.05" height="5.13" fill="rgb(255,77,77)"/><rect x="128.60" y="269.72" width="22.05" height="5.13" fill="rgb(255,166,166)"/><rect x="150.40" y="269.72" width="22.05" height="5.13" fill="rgb(217,217,255)"/><rect x="172.20" y="269.72" width="22.05" height="5.13" fill="rgb(64,64,255)"/><rect x="194.00" y="269.72" width="22.05" height="5.13" fill="rgb(255,255,255)"/><rect x="215.80" y="269.72" width="22.05" height="5.13" fill="rgb(217,217,255)"/><rect x="237.60" y="269.72" width="22.05" height="5.13" fill="rgb(255,204,204)"/><rect x="259.40" y="269.72" width="22.05" height="5.13" fill="rgb(178,178,255)"/><rect x="85.00" y="274.60" width="22.05" height="5.13" fill="rgb(255,140,140)"/><rect x="106.80" y="274.60" width="22.05" height="5.13" fill="rgb(255,77,77)"/><rect x="128.60" y="274.60" width="22.05" height="5.13" fill="rgb(255,217,217)"/><rect x="150.40" y="274.60" width="22.05" height="5.13" fill="rgb(128,128,255)"/><rect x="172.20" y="274.60" width="22.05" height="5.13" fill="rgb(102,102,255)"/><rect x="194.00" y="274.60" width="22.05" height="5.13" fill="rgb(255,230,230)"/><rect x="215.80" y="274.60" width="22.05" height="5.13" fill="rgb(217,217,255)"/><rect x="237.60" y="274.60" width="22.05" height="5.13" fill="rgb(255,217,217)"/><rect x="259.40" y="274.60" width="22.05" height="5.13" fill="rgb(178,178,255)"/><rect x="85.00" y="279.48" width="22.05" height="5.13" fill="rgb(255,153,153)"/><rect x="106.80" y="279.48" width="22.05" height="5.13" fill="rgb(255,166,166)"/><rect x="128.60" y="279.48" width="22.05" height="5.13" fill="rgb(255,128,128)"/><rect x="150.40" y="279.48" width="22.05" height="5.13" fill="rgb(230,230,255)"/><rect x="172.20" y="279.48" width="22.05" height="5.13" fill="rgb(115,115,255)"/><rect x="194.00" y="279.48" width="22.05" height="5.13" fill="rgb(153,153,255)"/><rect x="215.80" y="279.48" width="22.05" height="5.13" fill="rgb(255,204,204)"/><rect x="237.60" y="279.48" width="22.05" height="5.13" fill="rgb(255,217,217)"/><rect x="259.40" y="279.48" width="22.05" height="5.13" fill="rgb(140,140,255)"/><rect x="85.00" y="284.36" width="22.05" height="5.13" fill="rgb(255,115,115)"/><rect x="106.80" y="284.36" width="22.05" height="5.13" fill="rgb(255,178,178)"/><rect x="128.60" y="284.36" width="22.05" height="5.13" fill="rgb(255,178,178)"/><rect x="150.40" y="284.36" width="22.05" height="5.13" fill="rgb(230,230,255)"/><rect x="172.20" y="284.36" width="22.05" height="5.13" fill="rgb(191,191,255)"/><rect x="194.00" y="284.36" width="22.05" height="5.13" fill="rgb(102,102,255)"/><rect x="215.80" y="284.36" width="22.05" height="5.13" fill="rgb(255,153,153)"/><rect x="237.60" y="284.36" width="22.05" height="5.13" fill="rgb(255,255,255)"/><rect x="259.40" y="284.36" width="22.05" height="5.13" fill="rgb(128,128,255)"/><rect x="85.00" y="289.24" width="22.05" height="5.13" fill="rgb(255,178,178)"/><rect x="106.80" y="289.24" width="22.05" height="5.13" fill="rgb(255,178,178)"/><rect x="128.60" y="289.24" width="22.05" height="5.13" fill="rgb(255,230,230)"/><rect x="150.40" y="289.24" width="22.05" height="5.13" fill="rgb(89,89,255)"/><rect x="172.20" y="289.24" width="22.05" height="5.13" fill="rgb(191,191,255)"/><rect x="194.00" y="289.24" width="22.05" height="5.13" fill="rgb(140,140,255)"/><rect x="215.80" y="289.24" width="22.05" height="5.13" fill="rgb(255,217,217)"/><rect x="237.60" y="289.24" width="22.05" height="5.13" fill="rgb(255,77,77)"/><rect x="259.40" y="289.24" width="22.05" height="5.13" fill="rgb(166,166,255)"/><rect x="85.00" y="294.12" width="22.05" height="5.13" fill="rgb(204,204,255)"/><rect x="106.80" y="294.12" width="22.05" height="5.13" fill="rgb(166,166,255)"/><rect x="128.60" y="294.12" width="22.05" height="5.13" fill="rgb(140,140,255)"/><rect x="150.40" y="294.12" width="22.05" height="5.13" fill="rgb(255,102,102)"/><rect x="172.20" y="294.12" width="22.05" height="5.13" fill="rgb(255,178,178)"/><rect x="194.00" y="294.12" width="22.05" height="5.13" fill="rgb(255,178,178)"/><rect x="215.80" y="294.12" width="22.05" height="5.13" fill="rgb(255,217,217)"/><rect x="237.60" y="294.12" width="22.05" height="5.13" fill="rgb(255,140,140)"/><rect x="259.40" y="294.12" width="22.05" height="5.13" fill="rgb(115,115,255)"/><rect x="85.00" y="299.00" width="22.05" height="5.13" fill="rgb(166,166,255)"/><rect x="106.80" y="299.00" width="22.05" height="5.13" fill="rgb(166,166,255)"/><rect x="128.60" y="299.00" width="22.05" height="5.13" fill="rgb(140,140,255)"/><rect x="150.40" y="299.00" width="22.05" height="5.13" fill="rgb(255,102,102)"/><rect x="172.20" y="299.00" width="22.05" height="5.13" fill="rgb(255,153,153)"/><rect x="194.00" y="299.00" width="22.05" height="5.13" fill="rgb(217,217,255)"/><rect x="215.80" y="299.00" width="22.05" height="5.13" fill="rgb(255,217,217)"/><rect x="237.60" y="299.00" width="22.05" height="5.13" fill="rgb(255,140,140)"/><rect x="259.40" y="299.00" width="22.05" height="5.13" fill="rgb(166,166,255)"/><rect x="85.00" y="303.89" width="22.05" height="5.13" fill="rgb(204,204,255)"/><rect x="106.80" y="303.89" width="22.05" height="5.13" fill="rgb(102,102,255)"/><rect x="128.60" y="303.89" width="22.05" height="5.13" fill="rgb(166,166,255)"/><rect x="150.40" y="303.89" width="22.05" height="5.13" fill="rgb(255,102,102)"/><rect x="172.20" y="303.89" width="22.05" height="5.13" fill="rgb(255,242,242)"/><rect x="194.00" y="303.89" width="22.05" height="5.13" fill="rgb(255,255,255)"/><rect x="215.80" y="303.89" width="22.05" height="5.13" fill="rgb(255,178,178)"/><rect x="237.60" y="303.89" width="22.05" height="5.13" fill="rgb(255,140,140)"/><rect x="259.40" y="303.89" width="22.05" height="5.13" fill="rgb(178,178,255)"/><rect x="85.00" y="308.77" width="22.05" height="5.13" fill="rgb(140,140,255)"/><rect x="106.80" y="308.77" width="22.05" height="5.13" fill="rgb(178,178,255)"/><rect x="128.60" y="308.77" width="22.05" height="5.13" fill="rgb(166,166,255)"/><rect x="150.40" y="308.77" width="22.05" height="5.13" fill="rgb(255,128,128)"/><rect x="172.20" y="308.77" width="22.05" height="5.13" fill="rgb(255,166,166)"/><rect x="194.00" y="308.77" width="22.05" height="5.13" fill="rgb(255,166,166)"/><rect x="215.80" y="308.77" width="22.05" height="5.13" fill="rgb(255,166,166)"/><rect x="237.60" y="308.77" width="22.05" height="5.13" fill="rgb(255,178,178)"/><rect x="259.40" y="308.77" width="22.05" height="5.13" fill="rgb(64,64,255)"/><rect x="85.00" y="313.65" width="22.05" height="5.13" fill="rgb(166,166,255)"/><rect x="106.80" y="313.65" width="22.05" height="5.13" fill="rgb(128,128,255)"/><rect x="128.60" y="313.65" width="22.05" height="5.13" fill="rgb(217,217,255)"/><rect x="150.40" y="313.65" width="22.05" height="5.13" fill="rgb(255,128,128)"/><rect x="172.20" y="313.65" width="22.05" height="5.13" fill="rgb(255,178,178)"/><rect x="194.00" y="313.65" width="22.05" height="5.13" fill="rgb(255,77,77)"/><rect x="215.80" y="313.65" width="22.05" height="5.13" fill="rgb(191,191,255)"/><rect x="237.60" y="313.65" width="22.05" height="5.13" fill="rgb(255,178,178)"/><rect x="259.40" y="313.65" width="22.05" height="5.13" fill="rgb(102,102,255)"/><rect x="85.00" y="318.53" width="22.05" height="5.13" fill="rgb(166,166,255)"/><rect x="106.80" y="318.53" width="22.05" height="5.13" fill="rgb(128,128,255)"/><rect x="128.60" y="318.53" width="22.05" height="5.13" fill="rgb(204,204,255)"/><rect x="150.40" y="318.53" width="22.05" height="5.13" fill="rgb(255,128,128)"/><rect x="172.20" y="318.53" width="22.05" height="5.13" fill="rgb(255,166,166)"/><rect x="194.00" y="318.53" width="22.05" height="5.13" fill="rgb(255,77,77)"/><rect x="215.80" y="318.53" width="22.05" height="5.13" fill="rgb(191,191,255)"/><rect x="237.60" y="318.53" width="22.05" height="5.13" fill="rgb(255,255,255)"/><rect x="259.40" y="318.53" width="22.05" height="5.13" fill="rgb(178,178,255)"/><rect x="85.00" y="323.41" width="22.05" height="5.13" fill="rgb(255,255,255)"/><rect x="106.80" y="323.41" width="22.05" height="5.13" fill="rgb(140,140,255)"/><rect x="128.60" y="323.41" width="22.05" height="5.13" fill="rgb(255,242,242)"/><rect x="150.40" y="323.41" width="22.05" height="5.13" fill="rgb(255,166,166)"/><rect x="172.20" y="323.41" width="22.05" height="5.13" fill="rgb(255,166,166)"/><rect x="194.00" y="323.41" width="22.05" height="5.13" fill="rgb(255,77,77)"/><rect x="215.80" y="323.41" width="22.05" height="5.13" fill="rgb(230,230,255)"/><rect x="237.60" y="323.41" width="22.05" height="5.13" fill="rgb(191,191,255)"/><rect x="259.40" y="323.41" width="22.05" height="5.13" fill="rgb(77,77,255)"/><rect x="85.00" y="328.29" width="22.05" height="5.13" fill="rgb(140,140,255)"/><rect x="106.80" y="328.29" width="22.05" height="5.13" fill="rgb(255,217,217)"/><rect x="128.60" y="328.29" width="22.05" height="5.13" fill="rgb(38,38,255)"/><rect x="150.40" y="328.29" width="22.05" height="5.13" fill="rgb(255,102,102)"/><rect x="172.20" y="328.29" width="22.05" height="5.13" fill="rgb(255,166,166)"/><rect x="194.00" y="328.29" width="22.05" height="5.13" fill="rgb(255,242,242)"/><rect x="215.80" y="328.29" width="22.05" height="5.13" fill="rgb(255,242,242)"/><rect x="237.60" y="328.29" width="22.05" height="5.13" fill="rgb(255,242,242)"/><rect x="259.40" y="328.29" width="22.05" height="5.13" fill="rgb(242,242,255)"/><rect x="85.00" y="333.17" width="22.05" height="5.13" fill="rgb(217,217,255)"/><rect x="106.80" y="333.17" width="22.05" height="5.13" fill="rgb(255,217,217)"/><rect x="128.60" y="333.17" width="22.05" height="5.13" fill="rgb(13,13,255)"/><rect x="150.40" y="333.17" width="22.05" height="5.13" fill="rgb(255,166,166)"/><rect x="172.20" y="333.17" width="22.05" height="5.13" fill="rgb(255,166,166)"/><rect x="194.00" y="333.17" width="22.05" height="5.13" fill="rgb(255,191,191)"/><rect x="215.80" y="333.17" width="22.05" height="5.13" fill="rgb(255,204,204)"/><rect x="237.60" y="333.17" width="22.05" height="5.13" fill="rgb(255,217,217)"/><rect x="259.40" y="333.17" width="22.05" height="5.13" fill="rgb(178,178,255)"/><rect x="85.00" y="338.05" width="22.05" height="5.13" fill="rgb(217,217,255)"/><rect x="106.80" y="338.05" width="22.05" height="5.13" fill="rgb(255,255,255)"/><rect x="128.60" y="338.05" width="22.05" height="5.13" fill="rgb(13,13,255)"/><rect x="150.40" y="338.05" width="22.05" height="5.13" fill="rgb(255,230,230)"/><rect x="172.20" y="338.05" width="22.05" height="5.13" fill="rgb(255,166,166)"/><rect x="194.00" y="338.05" width="22.05" height="5.13" fill="rgb(255,153,153)"/><rect x="215.80" y="338.05" width="22.05" height="5.13" fill="rgb(255,140,140)"/><rect x="237.60" y="338.05" width="22.05" height="5.13" fill="rgb(217,217,255)"/><rect x="259.40" y="338.05" width="22.05" height="5.13" fill="rgb(217,217,255)"/><rect x="85.00" y="342.94" width="22.05" height="5.13" fill="rgb(255,217,217)"/><rect x="106.80" y="342.94" width="22.05" height="5.13" fill="rgb(166,166,255)"/><rect x="128.60" y="342.94" width="22.05" height="5.13" fill="rgb(64,64,255)"/><rect x="150.40" y="342.94" width="22.05" height="5.13" fill="rgb(255,178,178)"/><rect x="172.20" y="342.94" width="22.05" height="5.13" fill="rgb(255,64,64)"/><rect x="194.00" y="342.94" width="22.05" height="5.13" fill="rgb(255,204,204)"/><rect x="215.80" y="342.94" width="22.05" height="5.13" fill="rgb(242,242,255)"/><rect x="237.60" y="342.94" width="22.05" height="5.13" fill="rgb(217,217,255)"/><rect x="259.40" y="342.94" width="22.05" height="5.13" fill="rgb(217,217,255)"/><rect x="85.00" y="347.82" width="22.05" height="5.13" fill="rgb(255,242,242)"/><rect x="106.80" y="347.82" width="22.05" height="5.13" fill="rgb(255,242,242)"/><rect x="128.60" y="347.82" width="22.05" height="5.13" fill="rgb(38,38,255)"/><rect x="150.40" y="347.82" width="22.05" height="5.13" fill="rgb(255,128,128)"/><rect x="172.20" y="347.82" width="22.05" height="5.13" fill="rgb(255,115,115)"/><rect x="194.00" y="347.82" width="22.05" height="5.13" fill="rgb(255,242,242)"/><rect x="215.80" y="347.82" width="22.05" height="5.13" fill="rgb(230,230,255)"/><rect x="237.60" y="347.82" width="22.05" height="5.13" fill="rgb(166,166,255)"/><rect x="259.40" y="347.82" width="22.05" height="5.13" fill="rgb(230,230,255)"/><rect x="85.00" y="352.70" width="22.05" height="5.13" fill="rgb(255,242,242)"/><rect x="106.80" y="352.70" width="22.05" height="5.13" fill="rgb(255,242,242)"/><rect x="128.60" y="352.70" width="22.05" height="5.13" fill="rgb(38,38,255)"/><rect x="150.40" y="352.70" width="22.05" height="5.13" fill="rgb(255,204,204)"/><rect x="172.20" y="352.70" width="22.05" height="5.13" fill="rgb(255,128,128)"/><rect x="194.00" y="352.70" width="22.05" height="5.13" fill="rgb(255,128,128)"/><rect x="215.80" y="352.70" width="22.05" height="5.13" fill="rgb(255,230,230)"/><rect x="237.60" y="352.70" width="22.05" height="5.13" fill="rgb(255,255,255)"/><rect x="259.40" y="352.70" width="22.05" height="5.13" fill="rgb(128,128,255)"/><rect x="85.00" y="357.58" width="22.05" height="5.13" fill="rgb(255,255,255)"/><rect x="106.80" y="357.58" width="22.05" height="5.13" fill="rgb(255,255,255)"/><rect x="128.60" y="357.58" width="22.05" height="5.13" fill="rgb(102,102,255)"/><rect x="150.40" y="357.58" width="22.05" height="5.13" fill="rgb(255,153,153)"/><rect x="172.20" y="357.58" width="22.05" height="5.13" fill="rgb(255,166,166)"/><rect x="194.00" y="357.58" width="22.05" height="5.13" fill="rgb(255,89,89)"/><rect x="215.80" y="357.58" width="22.05" height="5.13" fill="rgb(242,242,255)"/><rect x="237.60" y="357.58" width="22.05" height="5.13" fill="rgb(255,217,217)"/><rect x="259.40" y="357.58" width="22.05" height="5.13" fill="rgb(64,64,255)"/><rect x="85.00" y="362.46" width="22.05" height="5.13" fill="rgb(255,230,230)"/><rect x="106.80" y="362.46" width="22.05" height="5.13" fill="rgb(230,230,255)"/><rect x="128.60" y="362.46" width="22.05" height="5.13" fill="rgb(140,140,255)"/><rect x="150.40" y="362.46" width="22.05" height="5.13" fill="rgb(255,128,128)"/><rect x="172.20" y="362.46" width="22.05" height="5.13" fill="rgb(255,153,153)"/><rect x="194.00" y="362.46" width="22.05" height="5.13" fill="rgb(255,153,153)"/><rect x="215.80" y="362.46" width="22.05" height="5.13" fill="rgb(178,178,255)"/><rect x="237.60" y="362.46" width="22.05" height="5.13" fill="rgb(217,217,255)"/><rect x="259.40" y="362.46" width="22.05" height="5.13" fill="rgb(64,64,255)"/><rect x="85.00" y="367.34" width="22.05" height="5.13" fill="rgb(217,217,255)"/><rect x="106.80" y="367.34" width="22.05" height="5.13" fill="rgb(128,128,255)"/><rect x="128.60" y="367.34" width="22.05" height="5.13" fill="rgb(89,89,255)"/><rect x="150.40" y="367.34" width="22.05" height="5.13" fill="rgb(255,77,77)"/><rect x="172.20" y="367.34" width="22.05" height="5.13" fill="rgb(255,255,255)"/><rect x="194.00" y="367.34" width="22.05" height="5.13" fill="rgb(255,242,242)"/><rect x="215.80" y="367.34" width="22.05" height="5.13" fill="rgb(255,153,153)"/><rect x="237.60" y="367.34" width="22.05" height="5.13" fill="rgb(255,255,255)"/><rect x="259.40" y="367.34" width="22.05" height="5.13" fill="rgb(255,217,217)"/><rect x="85.00" y="372.22" width="22.05" height="5.13" fill="rgb(217,217,255)"/><rect x="106.80" y="372.22" width="22.05" height="5.13" fill="rgb(153,153,255)"/><rect x="128.60" y="372.22" width="22.05" height="5.13" fill="rgb(217,217,255)"/><rect x="150.40" y="372.22" width="22.05" height="5.13" fill="rgb(255,153,153)"/><rect x="172.20" y="372.22" width="22.05" height="5.13" fill="rgb(255,102,102)"/><rect x="194.00" y="372.22" width="22.05" height="5.13" fill="rgb(255,166,166)"/><rect x="215.80" y="372.22" width="22.05" height="5.13" fill="rgb(217,217,255)"/><rect x="237.60" y="372.22" width="22.05" height="5.13" fill="rgb(64,64,255)"/><rect x="259.40" y="372.22" width="22.05" height="5.13" fill="rgb(230,230,255)"/><rect x="85.00" y="377.11" width="22.05" height="5.13" fill="rgb(166,166,255)"/><rect x="106.80" y="377.11" width="22.05" height="5.13" fill="rgb(128,128,255)"/><rect x="128.60" y="377.11" width="22.05" height="5.13" fill="rgb(166,166,255)"/><rect x="150.40" y="377.11" width="22.05" height="5.13" fill="rgb(255,89,89)"/><rect x="172.20" y="377.11" width="22.05" height="5.13" fill="rgb(255,102,102)"/><rect x="194.00" y="377.11" width="22.05" height="5.13" fill="rgb(255,217,217)"/><rect x="215.80" y="377.11" width="22.05" height="5.13" fill="rgb(255,255,255)"/><rect x="237.60" y="377.11" width="22.05" height="5.13" fill="rgb(140,140,255)"/><rect x="259.40" y="377.11" width="22.05" height="5.13" fill="rgb(242,242,255)"/><rect x="85.00" y="381.99" width="22.05" height="5.13" fill="rgb(153,153,255)"/><rect x="106.80" y="381.99" width="22.05" height="5.13" fill="rgb(255,242,242)"/><rect x="128.60" y="381.99" width="22.05" height="5.13" fill="rgb(140,140,255)"/><rect x="150.40" y="381.99" width="22.05" height="5.13" fill="rgb(255,128,128)"/><rect x="172.20" y="381.99" width="22.05" height="5.13" fill="rgb(255,115,115)"/><rect x="194.00" y="381.99" width="22.05" height="5.13" fill="rgb(255,204,204)"/><rect x="215.80" y="381.99" width="22.05" height="5.13" fill="rgb(178,178,255)"/><rect x="237.60" y="381.99" width="22.05" height="5.13" fill="rgb(140,140,255)"/><rect x="259.40" y="381.99" width="22.05" height="5.13" fill="rgb(255,204,204)"/><rect x="85.00" y="386.87" width="22.05" height="5.13" fill="rgb(153,153,255)"/><rect x="106.80" y="386.87" width="22.05" height="5.13" fill="rgb(242,242,255)"/><rect x="128.60" y="386.87" width="22.05" height="5.13" fill="rgb(89,89,255)"/><rect x="150.40" y="386.87" width="22.05" height="5.13" fill="rgb(255,128,128)"/><rect x="172.20" y="386.87" width="22.05" height="5.13" fill="rgb(255,191,191)"/><rect x="194.00" y="386.87" width="22.05" height="5.13" fill="rgb(255,140,140)"/><rect x="215.80" y="386.87" width="22.05" height="5.13" fill="rgb(255,230,230)"/><rect x="237.60" y="386.87" width="22.05" height="5.13" fill="rgb(128,128,255)"/><rect x="259.40" y="386.87" width="22.05" height="5.13" fill="rgb(255,191,191)"/><rect x="85.00" y="391.75" width="22.05" height="5.13" fill="rgb(191,191,255)"/><rect x="106.80" y="391.75" width="22.05" height="5.13" fill="rgb(204,204,255)"/><rect x="128.60" y="391.75" width="22.05" height="5.13" fill="rgb(153,153,255)"/><rect x="150.40" y="391.75" width="22.05" height="5.13" fill="rgb(255,166,166)"/><rect x="172.20" y="391.75" width="22.05" height="5.13" fill="rgb(255,191,191)"/><rect x="194.00" y="391.75" width="22.05" height="5.13" fill="rgb(255,64,64)"/><rect x="215.80" y="391.75" width="22.05" height="5.13" fill="rgb(204,204,255)"/><rect x="237.60" y="391.75" width="22.05" height="5.13" fill="rgb(102,102,255)"/><rect x="259.40" y="391.75" width="22.05" height="5.13" fill="rgb(255,204,204)"/><rect x="85.00" y="396.63" width="22.05" height="5.13" fill="rgb(102,102,255)"/><rect x="106.80" y="396.63" width="22.05" height="5.13" fill="rgb(191,191,255)"/><rect x="128.60" y="396.63" width="22.05" height="5.13" fill="rgb(204,204,255)"/><rect x="150.40" y="396.63" width="22.05" height="5.13" fill="rgb(255,255,255)"/><rect x="172.20" y="396.63" width="22.05" height="5.13" fill="rgb(255,51,51)"/><rect x="194.00" y="396.63" width="22.05" height="5.13" fill="rgb(255,153,153)"/><rect x="215.80" y="396.63" width="22.05" height="5.13" fill="rgb(255,255,255)"/><rect x="237.60" y="396.63" width="22.05" height="5.13" fill="rgb(255,255,255)"/><rect x="259.40" y="396.63" width="22.05" height="5.13" fill="rgb(204,204,255)"/><rect x="85.00" y="401.51" width="22.05" height="5.13" fill="rgb(102,102,255)"/><rect x="106.80" y="401.51" width="22.05" height="5.13" fill="rgb(217,217,255)"/><rect x="128.60" y="401.51" width="22.05" height="5.13" fill="rgb(140,140,255)"/><rect x="150.40" y="401.51" width="22.05" height="5.13" fill="rgb(255,255,255)"/><rect x="172.20" y="401.51" width="22.05" height="5.13" fill="rgb(255,51,51)"/><rect x="194.00" y="401.51" width="22.05" height="5.13" fill="rgb(255,153,153)"/><rect x="215.80" y="401.51" width="22.05" height="5.13" fill="rgb(255,204,204)"/><rect x="237.60" y="401.51" width="22.05" height="5.13" fill="rgb(242,242,255)"/><rect x="259.40" y="401.51" width="22.05" height="5.13" fill="rgb(204,204,255)"/><rect x="85.00" y="406.39" width="22.05" height="5.13" fill="rgb(204,204,255)"/><rect x="106.80" y="406.39" width="22.05" height="5.13" fill="rgb(217,217,255)"/><rect x="128.60" y="406.39" width="22.05" height="5.13" fill="rgb(204,204,255)"/><rect x="150.40" y="406.39" width="22.05" height="5.13" fill="rgb(204,204,255)"/><rect x="172.20" y="406.39" width="22.05" height="5.13" fill="rgb(255,64,64)"/><rect x="194.00" y="406.39" width="22.05" height="5.13" fill="rgb(255,115,115)"/><rect x="215.80" y="406.39" width="22.05" height="5.13" fill="rgb(204,204,255)"/><rect x="237.60" y="406.39" width="22.05" height="5.13" fill="rgb(204,204,255)"/><rect x="259.40" y="406.39" width="22.05" height="5.13" fill="rgb(204,204,255)"/><rect x="85.00" y="411.27" width="22.05" height="5.13" fill="rgb(115,115,255)"/><rect x="106.80" y="411.27" width="22.05" height="5.13" fill="rgb(217,217,255)"/><rect x="128.60" y="411.27" width="22.05" height="5.13" fill="rgb(217,217,255)"/><rect x="150.40" y="411.27" width="22.05" height="5.13" fill="rgb(255,242,242)"/><rect x="172.20" y="411.27" width="22.05" height="5.13" fill="rgb(255,128,128)"/><rect x="194.00" y="411.27" width="22.05" height="5.13" fill="rgb(255,115,115)"/><rect x="215.80" y="411.27" width="22.05" height="5.13" fill="rgb(255,178,178)"/><rect x="237.60" y="411.27" width="22.05" height="5.13" fill="rgb(102,102,255)"/><rect x="259.40" y="411.27" width="22.05" height="5.13" fill="rgb(230,230,255)"/><rect x="85.00" y="416.16" width="22.05" height="5.13" fill="rgb(38,38,255)"/><rect x="106.80" y="416.16" width="22.05" height="5.13" fill="rgb(217,217,255)"/><rect x="128.60" y="416.16" width="22.05" height="5.13" fill="rgb(255,242,242)"/><rect x="150.40" y="416.16" width="22.05" height="5.13" fill="rgb(255,166,166)"/><rect x="172.20" y="416.16" width="22.05" height="5.13" fill="rgb(255,166,166)"/><rect x="194.00" y="416.16" width="22.05" height="5.13" fill="rgb(255,128,128)"/><rect x="215.80" y="416.16" width="22.05" height="5.13" fill="rgb(153,153,255)"/><rect x="237.60" y="416.16" width="22.05" height="5.13" fill="rgb(255,204,204)"/><rect x="259.40" y="416.16" width="22.05" height="5.13" fill="rgb(230,230,255)"/><rect x="85.00" y="421.04" width="22.05" height="5.13" fill="rgb(25,25,255)"/><rect x="106.80" y="421.04" width="22.05" height="5.13" fill="rgb(166,166,255)"/><rect x="128.60" y="421.04" width="22.05" height="5.13" fill="rgb(255,242,242)"/><rect x="150.40" y="421.04" width="22.05" height="5.13" fill="rgb(255,166,166)"/><rect x="172.20" y="421.04" width="22.05" height="5.13" fill="rgb(255,166,166)"/><rect x="194.00" y="421.04" width="22.05" height="5.13" fill="rgb(255,204,204)"/><rect x="215.80" y="421.04" width="22.05" height="5.13" fill="rgb(255,204,204)"/><rect x="237.60" y="421.04" width="22.05" height="5.13" fill="rgb(255,217,217)"/><rect x="259.40" y="421.04" width="22.05" height="5.13" fill="rgb(178,178,255)"/><rect x="85.00" y="425.92" width="22.05" height="5.13" fill="rgb(13,13,255)"/><rect x="106.80" y="425.92" width="22.05" height="5.13" fill="rgb(230,230,255)"/><rect x="128.60" y="425.92" width="22.05" height="5.13" fill="rgb(255,255,255)"/><rect x="150.40" y="425.92" width="22.05" height="5.13" fill="rgb(255,166,166)"/><rect x="172.20" y="425.92" width="22.05" height="5.13" fill="rgb(255,178,178)"/><rect x="194.00" y="425.92" width="22.05" height="5.13" fill="rgb(255,217,217)"/><rect x="215.80" y="425.92" width="22.05" height="5.13" fill="rgb(255,204,204)"/><rect x="237.60" y="425.92" width="22.05" height="5.13" fill="rgb(204,204,255)"/><rect x="259.40" y="425.92" width="22.05" height="5.13" fill="rgb(255,204,204)"/></g>
<g font-family="'Liberation Sans', sans-serif" font-size="5.08" fill="#000" stroke="#000" stroke-width="0.12"><text x="289.3" y="68.89" transform="rotate(0.3 289.3 68.89)">hsa−miR−886−5p</text><text x="289.3" y="73.77" transform="rotate(0.3 289.3 73.77)">hsa−miR−548p</text><text x="289.3" y="78.65" transform="rotate(0.3 289.3 78.65)">hsa−miR−491−5p</text><text x="289.3" y="83.53" transform="rotate(0.3 289.3 83.53)">hsa−miR−543</text><text x="289.3" y="88.42" transform="rotate(0.3 289.3 88.42)">hsa−miR−1289</text><text x="289.3" y="93.30" transform="rotate(0.3 289.3 93.30)">hsa−miR−1265a</text><text x="289.3" y="98.18" transform="rotate(0.3 289.3 98.18)">kshv−miR−K12−3</text><text x="289.3" y="103.06" transform="rotate(0.3 289.3 103.06)">ebv−miR−BART17−5p</text><text x="289.3" y="107.94" transform="rotate(0.3 289.3 107.94)">hsa−miR−598</text><text x="289.3" y="112.82" transform="rotate(0.3 289.3 112.82)">hsa−miR−548l</text><text x="289.3" y="117.70" transform="rotate(0.3 289.3 117.70)">hsa−miR−655</text><text x="289.3" y="122.59" transform="rotate(0.3 289.3 122.59)">hsa−miR−517c+hsa−miR−519a</text><text x="289.3" y="127.47" transform="rotate(0.3 289.3 127.47)">kshv−miR−K12−7</text><text x="289.3" y="132.35" transform="rotate(0.3 289.3 132.35)">hsv2−miR−H4−5p</text><text x="289.3" y="137.23" transform="rotate(0.3 289.3 137.23)">hsa−miR−548h</text><text x="289.3" y="142.11" transform="rotate(0.3 289.3 142.11)">hsa−miR−509−5p</text><text x="289.3" y="146.99" transform="rotate(0.3 289.3 146.99)">hsa−miR−615−5p</text><text x="289.3" y="151.87" transform="rotate(0.3 289.3 151.87)">hsa−miR−10a</text><text x="289.3" y="156.75" transform="rotate(0.3 289.3 156.75)">hsa−miR−526a+hsa−miR−518d−5p</text><text x="289.3" y="161.64" transform="rotate(0.3 289.3 161.64)">hsa−miR−379</text><text x="289.3" y="166.52" transform="rotate(0.3 289.3 166.52)">kshv−miR−K12−4−5p</text><text x="289.3" y="171.40" transform="rotate(0.3 289.3 171.40)">hsa−miR−450b−5p</text><text x="289.3" y="176.28" transform="rotate(0.3 289.3 176.28)">hsa−miR−651</text><text x="289.3" y="181.16" transform="rotate(0.3 289.3 181.16)">ebv−miR−BART5</text><text x="289.3" y="186.04" transform="rotate(0.3 289.3 186.04)">hsa−miR−603</text><text x="289.3" y="190.92" transform="rotate(0.3 289.3 190.92)">hsa−miR−566</text><text x="289.3" y="195.81" transform="rotate(0.3 289.3 195.81)">hsa−miR−644</text><text x="289.3" y="200.69" transform="rotate(0.3 289.3 200.69)">hsa−miR−220a</text><text x="289.3" y="205.57" transform="rotate(0.3 289.3 205.57)">hsa−miR−1201</text><text x="289.3" y="210.45" transform="rotate(0.3 289.3 210.45)">ebv−miR−BART16</text><text x="289.3" y="215.33" transform="rotate(0.3 289.3 215.33)">hsa−miR−539</text><text x="289.3" y="220.21" transform="rotate(0.3 289.3 220.21)">hsa−miR−593</text><text x="289.3" y="225.09" transform="rotate(0.3 289.3 225.09)">NEG_H(0)</text><text x="289.3" y="229.97" transform="rotate(0.3 289.3 229.97)">hsa−miR−935</text><text x="289.3" y="234.86" transform="rotate(0.3 289.3 234.86)">hsa−miR−1322</text><text x="289.3" y="239.74" transform="rotate(0.3 289.3 239.74)">hsa−miR−891a</text><text x="289.3" y="244.62" transform="rotate(0.3 289.3 244.62)">hsa−miR−765</text><text x="289.3" y="249.50" transform="rotate(0.3 289.3 249.50)">hcmv−miR−UL148D</text><text x="289.3" y="254.38" transform="rotate(0.3 289.3 254.38)">hsa−miR−873</text><text x="289.3" y="259.26" transform="rotate(0.3 289.3 259.26)">hsa−miR−885−5p</text><text x="289.3" y="264.14" transform="rotate(0.3 289.3 264.14)">hsa−miR−767−5p</text><text x="289.3" y="269.03" transform="rotate(0.3 289.3 269.03)">hsa−miR−220c</text><text x="289.3" y="273.91" transform="rotate(0.3 289.3 273.91)">hsa−miR−302f</text><text x="289.3" y="278.79" transform="rotate(0.3 289.3 278.79)">hsa−miR−1204</text><text x="289.3" y="283.67" transform="rotate(0.3 289.3 283.67)">hsa−miR−587</text><text x="289.3" y="288.55" transform="rotate(0.3 289.3 288.55)">hsa−miR−519d</text><text x="289.3" y="293.43" transform="rotate(0.3 289.3 293.43)">hsa−miR−1205</text><text x="289.3" y="298.31" transform="rotate(0.3 289.3 298.31)">hsa−miR−194</text><text x="289.3" y="303.19" transform="rotate(0.3 289.3 303.19)">hsa−miR−107</text><text x="289.3" y="308.08" transform="rotate(0.3 289.3 308.08)">hsa−miR−221</text><text x="289.3" y="312.96" transform="rotate(0.3 289.3 312.96)">hsa−miR−151−3p</text><text x="289.3" y="317.84" transform="rotate(0.3 289.3 317.84)">hsa−miR−374b</text><text x="289.3" y="322.72" transform="rotate(0.3 289.3 322.72)">hsa−miR−301b</text><text x="289.3" y="327.60" transform="rotate(0.3 289.3 327.60)">hsa−miR−99b</text><text x="289.3" y="332.48" transform="rotate(0.3 289.3 332.48)">hsa−miR−362−3p</text><text x="289.3" y="337.36" transform="rotate(0.3 289.3 337.36)">hsa−miR−151−5p</text><text x="289.3" y="342.25" transform="rotate(0.3 289.3 342.25)">hsa−let−7a</text><text x="289.3" y="347.13" transform="rotate(0.3 289.3 347.13)">hsa−miR−195</text><text x="289.3" y="352.01" transform="rotate(0.3 289.3 352.01)">hsa−miR−150</text><text x="289.3" y="356.89" transform="rotate(0.3 289.3 356.89)">hsa−miR−214</text><text x="289.3" y="361.77" transform="rotate(0.3 289.3 361.77)">hsa−miR−143</text><text x="289.3" y="366.65" transform="rotate(0.3 289.3 366.65)">hsa−miR−423−3p</text><text x="289.3" y="371.53" transform="rotate(0.3 289.3 371.53)">ebv−miR−BART7</text><text x="289.3" y="376.41" transform="rotate(0.3 289.3 376.41)">hsa−miR−769−3p</text><text x="289.3" y="381.30" transform="rotate(0.3 289.3 381.30)">hsa−miR−142−3p</text><text x="289.3" y="386.18" transform="rotate(0.3 289.3 386.18)">hsa−miR−487b</text><text x="289.3" y="391.06" transform="rotate(0.3 289.3 391.06)">hsa−miR−576−5p</text><text x="289.3" y="395.94" transform="rotate(0.3 289.3 395.94)">hsa−miR−1178</text><text x="289.3" y="400.82" transform="rotate(0.3 289.3 400.82)">hsa−miR−652</text><text x="289.3" y="405.70" transform="rotate(0.3 289.3 405.70)">hsa−miR−337−3p</text><text x="289.3" y="410.58" transform="rotate(0.3 289.3 410.58)">hsa−miR−132</text><text x="289.3" y="415.47" transform="rotate(0.3 289.3 415.47)">hsa−miR−513b</text><text x="289.3" y="420.35" transform="rotate(0.3 289.3 420.35)">hsa−miR−590−3p</text><text x="289.3" y="425.23" transform="rotate(0.3 289.3 425.23)">hsa−miR−186</text><text x="289.3" y="430.11" transform="rotate(0.3 289.3 430.11)">hsa−miR−320b</text></g>
<g font-family="'Liberation Sans', sans-serif" font-size="8.4" fill="#222"><text x="85.50" y="440.4" textLength="8.7" lengthAdjust="spacingAndGlyphs">C1</text><text x="107.40" y="440.4" textLength="8.8" lengthAdjust="spacingAndGlyphs">C2</text><text x="129.60" y="440.4" textLength="8.8" lengthAdjust="spacingAndGlyphs">C3</text><text x="150.90" y="440.4" textLength="9.6" lengthAdjust="spacingAndGlyphs">N1</text><text x="173.70" y="440.4" textLength="9.6" lengthAdjust="spacingAndGlyphs">N2</text><text x="194.60" y="440.4" textLength="9.6" lengthAdjust="spacingAndGlyphs">N3</text><text x="217.70" y="440.4" textLength="8.8" lengthAdjust="spacingAndGlyphs">P1</text><text x="239.70" y="440.4" textLength="9.0" lengthAdjust="spacingAndGlyphs">P2</text><text x="262.20" y="440.4" textLength="9.0" lengthAdjust="spacingAndGlyphs">P3</text></g>
<rect x="82.8" y="34.8" width="65.6" height="28.2" fill="#fff" stroke="#6d9ac4" stroke-width="1"/>
<rect x="148.4" y="34.8" width="65.9" height="28.2" fill="#ddd9c4" stroke="#6d9ac4" stroke-width="1"/>
<rect x="214.3" y="34.8" width="70.3" height="28.2" fill="#b3a2c7" stroke="#6d9ac4" stroke-width="1"/>
<g font-family="'Liberation Sans', sans-serif" font-size="13" fill="#111"><text x="89.6" y="51.3" textLength="43" lengthAdjust="spacingAndGlyphs">Control</text><text x="154.6" y="51.3" textLength="49" lengthAdjust="spacingAndGlyphs">Nodular</text><text x="220.6" y="51.3" textLength="54" lengthAdjust="spacingAndGlyphs">Pagetoid</text></g>
<g font-family="'Liberation Serif', serif" fill="#000"><text x="34.1" y="23.4" font-size="32.5" textLength="20.6" lengthAdjust="spacingAndGlyphs">A</text><text x="362.8" y="26.6" font-size="31.8" textLength="18.5" lengthAdjust="spacingAndGlyphs">B</text><text x="363" y="188.5" font-size="34.5" textLength="19" lengthAdjust="spacingAndGlyphs">C</text><text x="365.3" y="302.4" font-size="32.7" textLength="20.5" lengthAdjust="spacingAndGlyphs">D</text></g>
<defs><linearGradient id="ck" x1="0" x2="1" y1="0" y2="0"><stop offset="0" stop-color="#0000ff"/><stop offset="0.5" stop-color="#ffffff"/><stop offset="1" stop-color="#ff0000"/></linearGradient></defs>
<text x="10.6" y="42.8" font-family="'Liberation Sans', sans-serif" font-weight="bold" font-size="8.6" textLength="42.2" lengthAdjust="spacingAndGlyphs" fill="#111">Color Key</text>
<rect x="12.1" y="49.3" width="38.9" height="18.9" fill="url(#ck)" stroke="#222" stroke-width="0.7"/>
<path d="M15.7,68.4V73.4M23.5,68.4V73.4M31.4,68.4V73.4M39.3,68.4V73.4M47.2,68.4V73.4" stroke="#444" stroke-width="0.8"/>
<g font-family="'Liberation Sans', sans-serif" font-size="7" fill="#222" text-anchor="middle"><text x="15.4" y="86.3">−2</text><text x="31.4" y="86.3">0</text><text x="47.1" y="86.3">2</text><text x="31.3" y="98.9" textLength="45" lengthAdjust="spacingAndGlyphs">Row Z−Score</text></g>
<path d="M407,11.0V123.6H641 M404.5,123.6H407 M404.5,95.4H407 M404.5,67.3H407 M404.5,39.1H407 M404.5,11.0H407 M407,123.6V126 M485,123.6V126 M563,123.6V126 M641,123.6V126" stroke="#868686" stroke-width="0.8" fill="none"/>
<g font-family="'Liberation Serif', serif" font-weight="bold" font-size="7.1" fill="#111" text-anchor="end"><text x="400.9" y="126.0">4</text><text x="400.9" y="97.8">6</text><text x="400.9" y="69.7">8</text><text x="400.9" y="41.5">10</text><text x="400.9" y="13.4">12</text></g>
<rect x="418.7" y="106.5" width="15.2" height="17.1" fill="#0f7d12"/>
<rect x="438.8" y="63.8" width="15.0" height="59.8" fill="#4f81bd"/>
<rect x="458.3" y="98.0" width="15.2" height="25.6" fill="#c0504d"/>
<rect x="496.4" y="111.8" width="15.0" height="11.8" fill="#0f7d12"/>
<rect x="516.0" y="81.6" width="15.0" height="42.0" fill="#4f81bd"/>
<rect x="536.0" y="110.9" width="15.0" height="12.7" fill="#c0504d"/>
<rect x="574.0" y="49.1" width="15.0" height="74.5" fill="#0f7d12"/>
<rect x="593.8" y="84.9" width="14.9" height="38.7" fill="#4f81bd"/>
<rect x="613.3" y="69.8" width="15.3" height="53.8" fill="#c0504d"/>
<path d="M426.5,74.2V123.6 M424.7,74.2H428.3 M446.5,44.6V83.1 M444.7,44.6H448.3 M444.7,83.1H448.3 M465.5,89.4V106.1 M463.7,89.4H467.3 M463.7,106.1H467.3 M503.5,94.4V123.6 M501.7,94.4H505.3 M523.5,70.5V91.4 M521.7,70.5H525.3 M521.7,91.4H525.3 M543.5,89.3V123.6 M541.7,89.3H545.3 M581.5,27.2V70.1 M579.7,27.2H583.3 M579.7,70.1H583.3 M601.5,73.3V96.5 M599.7,73.3H603.3 M599.7,96.5H603.3 M620.5,61.0V78.0 M618.7,61.0H622.3 M618.7,78.0H622.3 " stroke="#111" stroke-width="0.8" fill="none"/>
<g font-family="'Liberation Serif', serif" font-weight="bold" font-size="8" fill="#111" text-anchor="middle"><text x="445.9" y="43.4">*</text><text x="523.4" y="69.5">*</text><text x="600.2" y="72.4">**</text></g>
<g font-family="'Liberation Serif', serif" font-weight="bold" font-size="6.7" fill="#111"><rect x="651" y="66.6" width="3.5" height="3.4" fill="#0f7d12"/><text x="656" y="70.9" textLength="23.4" lengthAdjust="spacingAndGlyphs">Control</text><rect x="651" y="79.3" width="3.5" height="3.4" fill="#4f81bd"/><text x="656" y="83.6" textLength="24.2" lengthAdjust="spacingAndGlyphs">Nodular</text><rect x="651" y="91.8" width="3.5" height="3.4" fill="#c0504d"/><text x="656" y="96.1" textLength="25.8" lengthAdjust="spacingAndGlyphs">Pagetoid</text></g>
<text transform="translate(391.6,67.5) rotate(-90)" text-anchor="middle" font-family="'Liberation Serif', serif" font-weight="bold" font-size="7.4" fill="#111" textLength="91" lengthAdjust="spacingAndGlyphs">Normalised miRNA expression</text>
<text transform="translate(447.7,133.3) rotate(-27)" text-anchor="end" font-family="'Liberation Serif', serif" font-weight="bold" font-size="7" fill="#111">hsa-miR-150</text>
<text transform="translate(525.7,133.3) rotate(-27)" text-anchor="end" font-family="'Liberation Serif', serif" font-weight="bold" font-size="7" fill="#111">hsa-miR-143</text>
<text transform="translate(603.7,133.3) rotate(-27)" text-anchor="end" font-family="'Liberation Serif', serif" font-weight="bold" font-size="7" fill="#111">hsa-miR-603</text>
<path d="M444.3,167.7V288.5H512.5 M441.5,288.7H444.3 M441.5,268.5H444.3 M441.5,248.4H444.3 M441.5,228.2H444.3 M441.5,208.0H444.3 M441.5,187.8H444.3 M441.5,167.7H444.3  M467.2,288.5V291 M489.8,288.5V291 M512.5,288.5V291" stroke="#868686" stroke-width="0.8" fill="none"/>
<g font-family="'Liberation Serif', serif" font-weight="bold" font-size="7.4" fill="#111" text-anchor="end"><text x="437.6" y="291.2" textLength="3.6" lengthAdjust="spacingAndGlyphs">0</text><text x="437.6" y="271.0" textLength="3.6" lengthAdjust="spacingAndGlyphs">1</text><text x="437.6" y="250.9" textLength="3.6" lengthAdjust="spacingAndGlyphs">2</text><text x="437.6" y="230.7" textLength="3.6" lengthAdjust="spacingAndGlyphs">3</text><text x="437.6" y="210.5" textLength="3.6" lengthAdjust="spacingAndGlyphs">4</text><text x="437.6" y="190.3" textLength="3.6" lengthAdjust="spacingAndGlyphs">5</text><text x="437.6" y="170.2" textLength="3.6" lengthAdjust="spacingAndGlyphs">6</text></g>
<defs><pattern id="hatch" width="2" height="2" patternUnits="userSpaceOnUse" patternTransform="rotate(-45)"><rect width="2" height="2" fill="#fff"/><rect width="1.05" height="2" fill="#222"/></pattern></defs>
<rect x="447.6" y="268.0" width="16.8" height="20.5" fill="#fff" stroke="#333" stroke-width="0.8"/>
<rect x="469.6" y="196" width="18" height="92.7" fill="#000"/>
<rect x="492.8" y="277.2" width="17.5" height="11.3" fill="url(#hatch)" stroke="#333" stroke-width="0.7"/>
<path d="M478.6,185V196 M476.6,185H480.6 M501.5,273.4V277.2 M499.5,273.4H503.5" stroke="#111" stroke-width="0.9"/>
<text x="478.4" y="182.6" text-anchor="middle" font-family="'Liberation Serif', serif" font-weight="bold" font-size="8" fill="#111">**</text>
<text transform="translate(430.6,227.5) rotate(-90)" text-anchor="middle" font-family="'Liberation Serif', serif" font-weight="bold" font-size="7" fill="#111" textLength="94" lengthAdjust="spacingAndGlyphs">Relative 150-5p miRNA level</text>
<g font-family="'Liberation Serif', serif" font-weight="bold" font-size="8.9" fill="#111"><rect x="546.1" y="192.6" width="3.6" height="3.8" fill="#fff" stroke="#000" stroke-width="0.8"/><text x="552" y="197.7" textLength="30.6" lengthAdjust="spacingAndGlyphs">Control</text><rect x="545.7" y="207.8" width="4.3" height="4.3" fill="#000"/><text x="552" y="213.0" textLength="31.8" lengthAdjust="spacingAndGlyphs">Nodular</text><rect x="546.1" y="222.6" width="3.6" height="3.8" fill="url(#hatch)" stroke="#000" stroke-width="0.8"/><text x="552" y="227.9" textLength="34" lengthAdjust="spacingAndGlyphs">Pagetoid</text></g>
<g font-family="'Liberation Serif', serif" font-size="13.6" fill="#111"><text x="390.2" y="315.4">(i)</text><text x="551.3" y="315.4">(ii)</text></g>
<path d="M412.3,333.0V434.3H497" stroke="#8e9ed2" stroke-width="0.75" fill="none"/>
<g font-family="'Liberation Serif', serif" font-size="4.6" fill="#555" text-anchor="end"><text x="408.4" y="435.9">2.5</text><text x="408.4" y="421.4">3</text><text x="408.4" y="407.0">3.5</text><text x="408.4" y="392.5">4</text><text x="408.4" y="378.0">4.5</text><text x="408.4" y="363.6">5</text><text x="408.4" y="349.1">5.5</text><text x="408.4" y="334.6">6</text></g>
<rect x="414.5" y="402" width="23.0" height="31.9" fill="#4472c4"/>
<rect x="443.3" y="364.5" width="23.0" height="69.4" fill="#ed7d31"/>
<rect x="471.8" y="364.5" width="23.2" height="69.4" fill="#a5a5a5"/>
<path d="M426.0,387V416.3 M424.5,387H427.5 M424.5,416.3H427.5 M454.8,344V385 M453.3,344H456.3 M453.3,385H456.3 M483.4,352V376.3 M481.9,352H484.9 M481.9,376.3H484.9 " stroke="#555" stroke-width="0.5" fill="none"/>
<text x="454.8" y="342.6" text-anchor="middle" font-family="'Liberation Serif', serif" font-weight="bold" font-size="7.5" fill="#222">**</text>
<text x="483.4" y="352.1" text-anchor="middle" font-family="'Liberation Serif', serif" font-weight="bold" font-size="7.5" fill="#222">**</text>
<text x="454.75" y="445.4" text-anchor="middle" font-family="'Liberation Serif', serif" font-weight="bold" font-size="7.7" fill="#111" textLength="16.1" lengthAdjust="spacingAndGlyphs">E2F1</text>
<text transform="translate(399.6,380) rotate(-90)" text-anchor="middle" font-family="'Liberation Serif', serif" font-weight="bold" font-size="8.1" fill="#111" textLength="100" lengthAdjust="spacingAndGlyphs">Normalised mRNA expression</text>
<path d="M570.6,331.5V434.4H654.4" stroke="#8e9ed2" stroke-width="0.75" fill="none"/>
<g font-family="'Liberation Serif', serif" font-size="4.6" fill="#555" text-anchor="end"><text x="566.7" y="436.0">2.5</text><text x="566.7" y="418.9">3</text><text x="566.7" y="401.7">3.5</text><text x="566.7" y="384.6">4</text><text x="566.7" y="367.4">4.5</text><text x="566.7" y="350.2">5</text><text x="566.7" y="333.1">5.5</text></g>
<rect x="573.2" y="361.9" width="22.8" height="72.1" fill="#4472c4"/>
<rect x="601.3" y="400" width="22.5" height="34.0" fill="#ed7d31"/>
<rect x="629.4" y="372.8" width="23.4" height="61.2" fill="#a5a5a5"/>
<path d="M585,348.4V376 M583.5,348.4H586.5 M583.5,376H586.5 M612.5,382.2V417.2 M611.0,382.2H614.0 M611.0,417.2H614.0 M641,361.9V383 M639.5,361.9H642.5 M639.5,383H642.5 " stroke="#555" stroke-width="0.5" fill="none"/>
<text x="612.5" y="379.4" text-anchor="middle" font-family="'Liberation Serif', serif" font-weight="bold" font-size="7.5" fill="#222">**</text>
<text x="612.8" y="445.4" text-anchor="middle" font-family="'Liberation Serif', serif" font-weight="bold" font-size="7.7" fill="#111" textLength="17.3" lengthAdjust="spacingAndGlyphs">ZEB1</text>
<text transform="translate(560.2,382) rotate(-90)" text-anchor="middle" font-family="'Liberation Serif', serif" font-weight="bold" font-size="8.1" fill="#111" textLength="102" lengthAdjust="spacingAndGlyphs">Normalised mRNA expression</text>
<g font-family="'Liberation Serif', serif" font-weight="bold" font-size="12.3" fill="#595959"><rect x="453.1" y="466.5" width="5" height="5.8" fill="#4472c4"/><text x="461" y="473.8" textLength="38" lengthAdjust="spacingAndGlyphs">Normal</text><rect x="510" y="466.5" width="5.3" height="5.8" fill="#ed7d31"/><text x="518.2" y="473.8" textLength="40" lengthAdjust="spacingAndGlyphs">Nodular</text><rect x="570" y="466.5" width="5" height="5.8" fill="#a5a5a5"/><text x="577.8" y="473.8" textLength="42.6" lengthAdjust="spacingAndGlyphs">Pagetoid</text></g>
</svg>
</body></html>
